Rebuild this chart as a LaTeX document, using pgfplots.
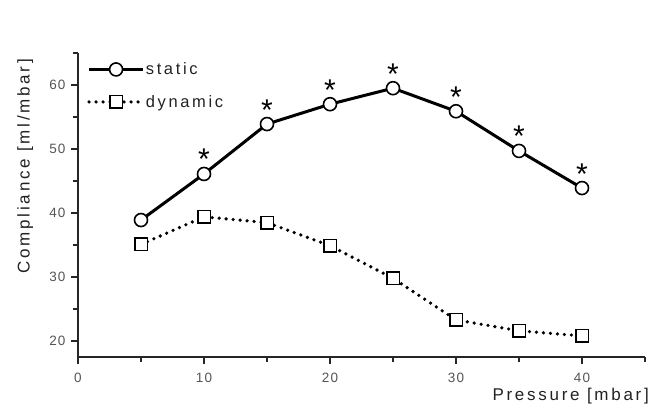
\documentclass[border=0pt]{standalone}
\usepackage{pgfplots}
\pgfplotsset{compat=1.18}
\usepackage{fontspec}
\setmainfont{Liberation Sans}
\newfontfamily\spaced[LetterSpace=16]{Liberation Sans}
\newfontfamily\tickfont[LetterSpace=8]{Liberation Sans}
\definecolor{tickgray}{HTML}{555555}
\definecolor{txt}{HTML}{222222}
\begin{document}
\begin{tikzpicture}
\begin{axis}[
  scale only axis, width=567pt, height=304pt,
  xmin=0, xmax=45, ymin=17.5, ymax=65,
  axis x line*=bottom, axis y line*=left,
  axis line style={line width=1.6pt, color=black!85},
  xtick={0,10,20,30,40}, minor xtick={5,15,25,35,45},
  ytick={20,30,40,50,60}, minor ytick={25,35,45,55,65},
  tick align=outside, major tick length=7pt, minor tick length=5pt,
  every tick/.style={line width=1.4pt, black!85},
  /pgf/number format/assume math mode=true,
  ticklabel style={font=\tickfont\fontsize{13.5}{13.5}\selectfont, text=tickgray},
  xticklabel style={yshift=-6pt},
  yticklabel style={xshift=-2pt},
  xlabel={Pressure [mbar]},
  ylabel={Compliance [ml/mbar]},
  label style={font=\spaced\fontsize{17}{17}\selectfont, text=txt},
  xlabel style={at={(axis description cs:1.013,0)}, anchor=base east, yshift=-43pt},
  ylabel style={at={(axis description cs:-0.093,0.628)}, anchor=center},
  legend style={draw=none, fill=none, at={(axis description cs:0.016,0.972)}, anchor=north west,
    font=\spaced\fontsize{16.5}{16.5}\selectfont, text=txt, row sep=17pt, inner sep=0pt,
    nodes={inner sep=1pt}},
  legend cell align=left,
  legend image code/.code={\draw[mark repeat=2,mark phase=2] plot coordinates {(0pt,0pt) (27pt,0pt) (54pt,0pt)};},
]
\coordinate (ll) at (rel axis cs:0,0);
\coordinate (ur) at (rel axis cs:1,1);
\addplot[black, line width=3pt, mark=*, mark size=6.5pt, mark options={fill=white, draw=black, line width=1.6pt, solid}]
  coordinates {(5,38.9) (10,46.1) (15,53.9) (20,57.0) (25,59.5) (30,55.9) (35,49.7) (40,43.9)};
\addlegendentry{static}
\addplot[black, line width=3.6pt, dash pattern=on 0pt off 7pt, line cap=round, mark=square*, mark size=6.3pt, mark options={fill=white, draw=black, line width=1.6pt, solid}]
  coordinates {(5,35.1) (10,39.4) (15,38.5) (20,34.9) (25,29.8) (30,23.3) (35,21.6) (40,20.8)};
\addlegendentry{dynamic}
\addplot[draw=none, mark=none, forget plot, nodes near coords={*},
  every node near coord/.style={font=\fontsize{30}{30}\selectfont, text=black, anchor=base, yshift=4pt, inner sep=0pt}]
  coordinates {(10,46.1) (15,53.9) (20,57.0) (25,59.5) (30,55.9) (35,49.7) (40,43.9)};
\end{axis}
\pgfresetboundingbox
\useasboundingbox ([shift={(-78pt,-47pt)}]ll) rectangle ([shift={(9pt,53pt)}]ur);
\end{tikzpicture}
\end{document}
